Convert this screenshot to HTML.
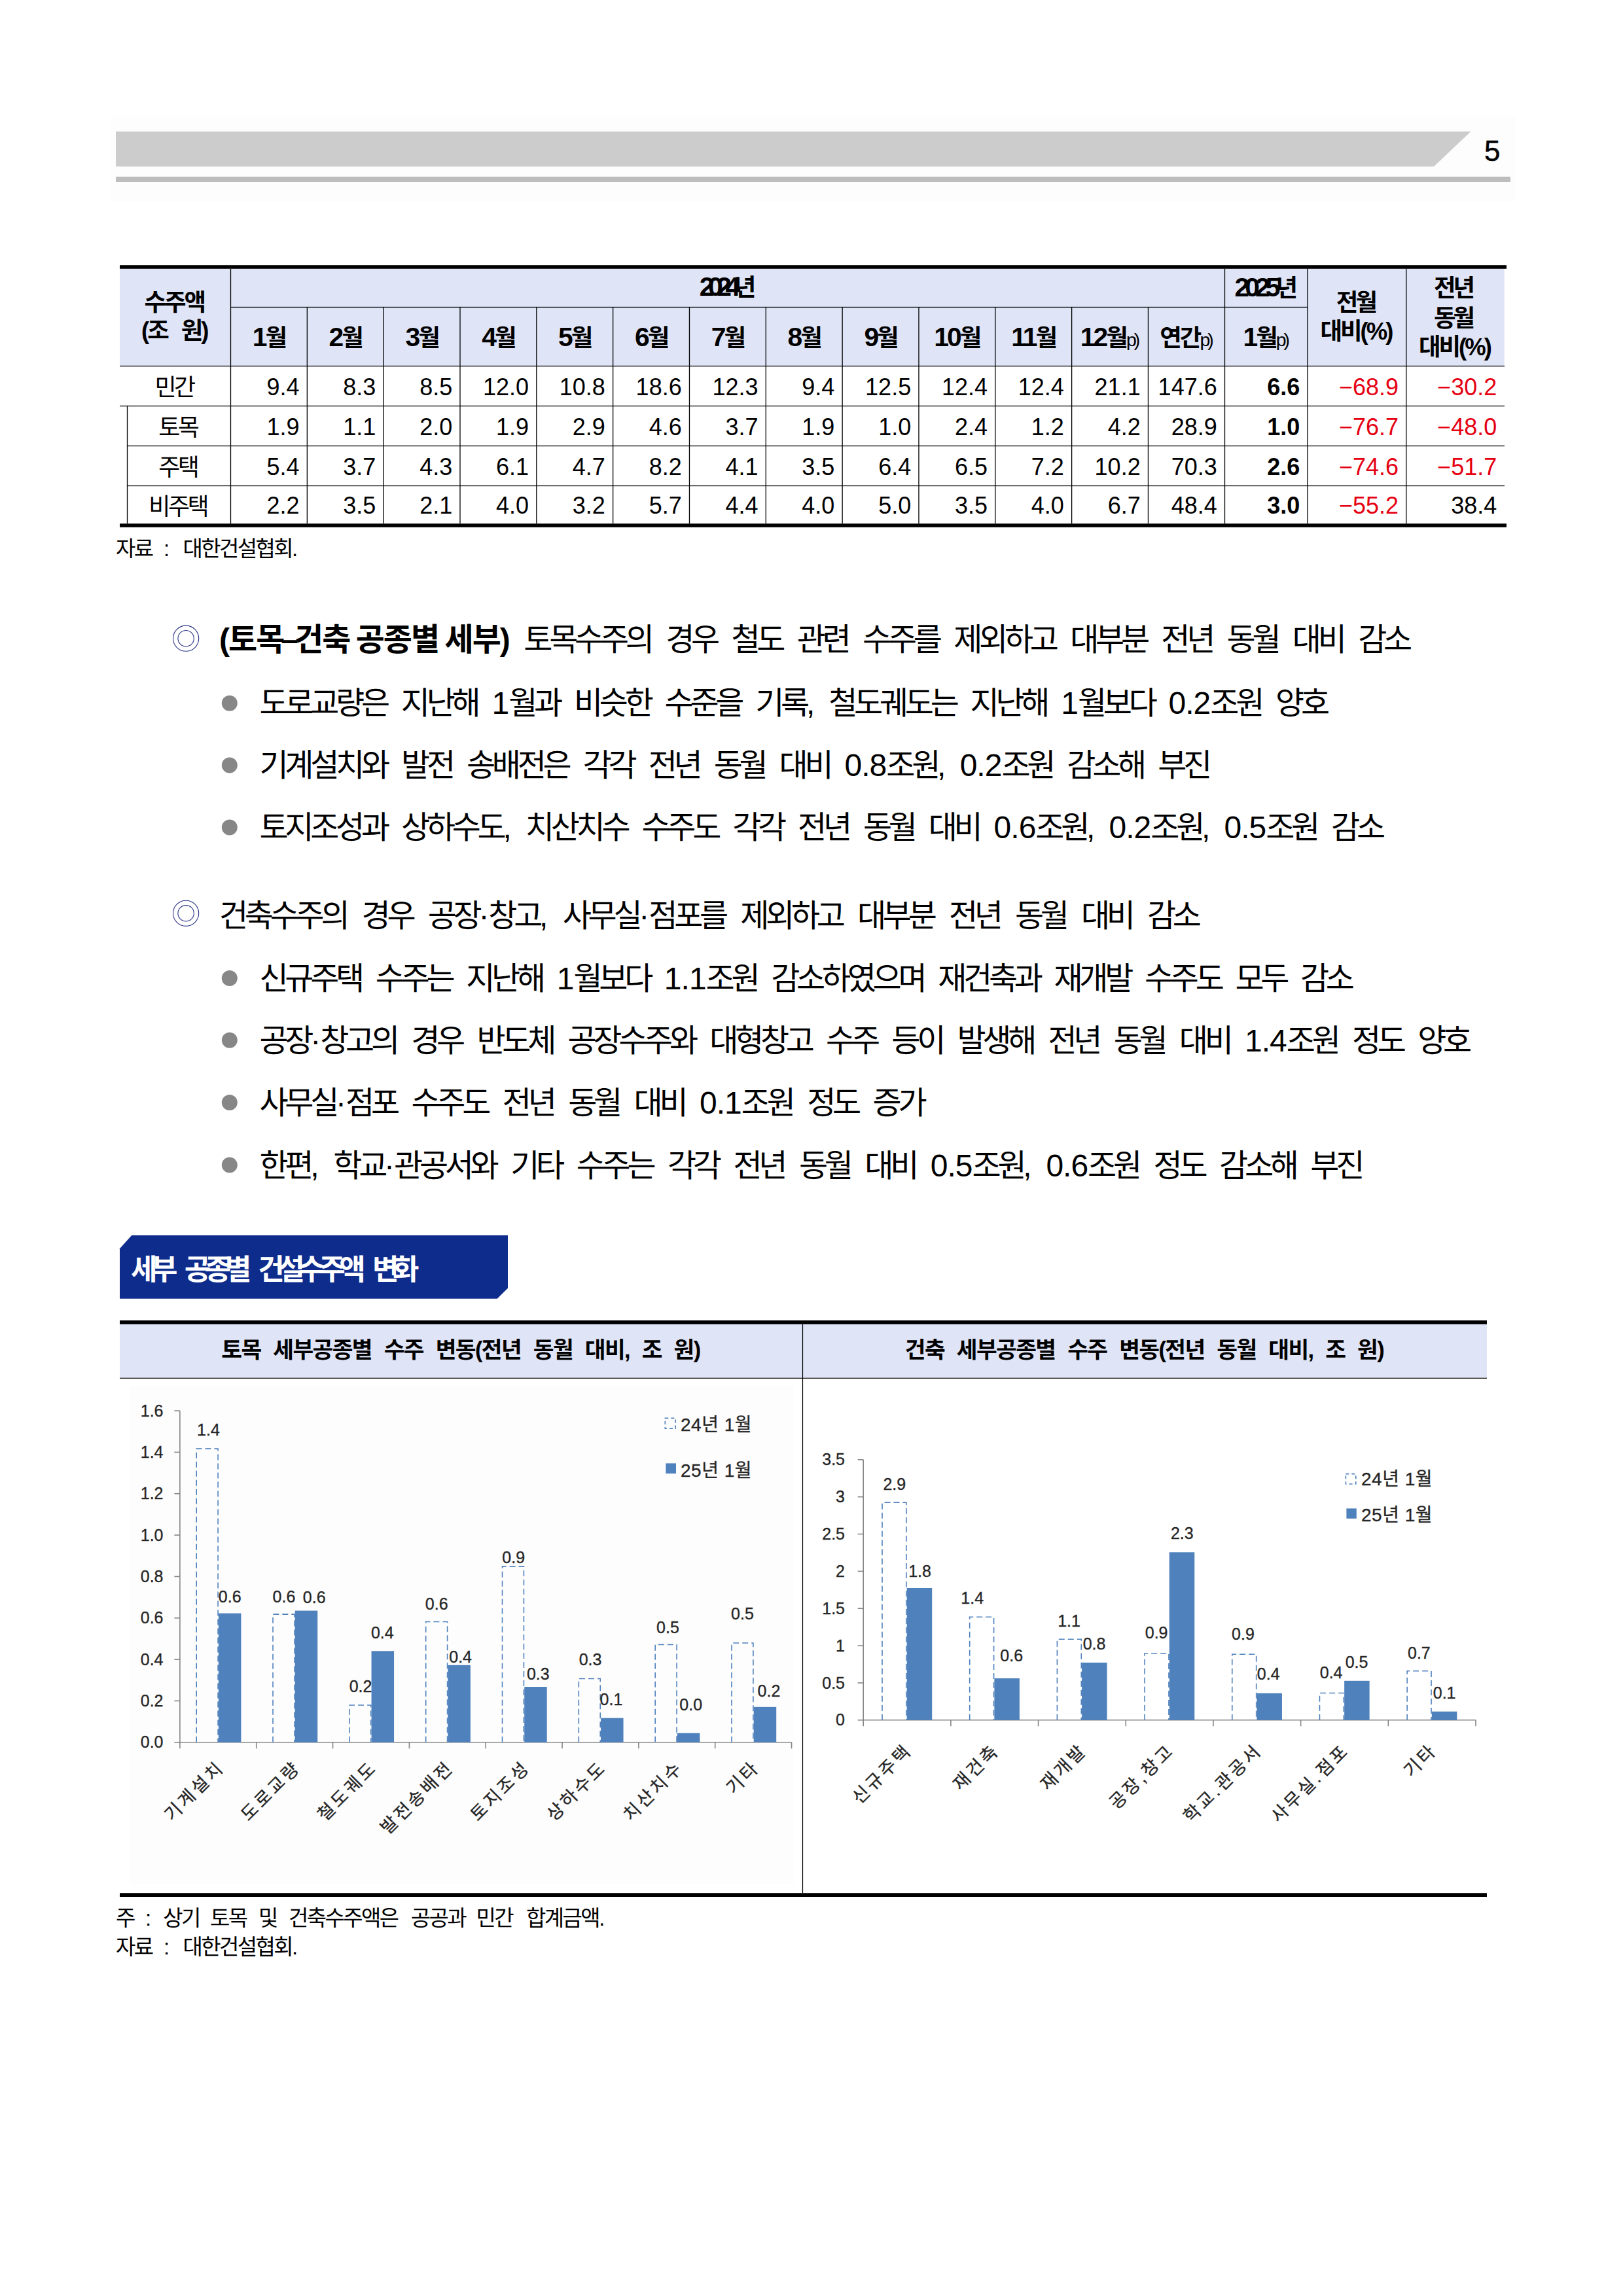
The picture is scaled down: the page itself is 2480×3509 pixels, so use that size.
<!DOCTYPE html>
<html lang="ko"><head><meta charset="utf-8"><title>세부 공종별 건설수주액 변화</title>
<style>
html,body{margin:0;padding:0;background:#fff;}
body{width:2480px;height:3509px;position:relative;overflow:hidden;font-family:'Liberation Sans','Noto Sans CJK KR',sans-serif;color:#000;}
.t{position:absolute;white-space:nowrap;line-height:1;}
.n{letter-spacing:-1px;}
.p{font-size:0.78em;font-weight:400;letter-spacing:-4px;}
.d{font-size:1.12em;line-height:0;}
b{font-weight:700;}
svg.ch text{stroke:#262626;stroke-width:0.35px;}
</style></head><body>
<svg width="2480" height="3509" viewBox="0 0 2480 3509" style="position:absolute;left:0;top:0"><rect x="170" y="178" width="2145" height="130" fill="#fdfdfd"/><polygon points="177,201 2247.5,201 2191,254.5 177,254.5" fill="#cdcccd"/><rect x="177" y="270" width="2131" height="8" fill="#bdbdbd"/><rect x="183" y="411" width="2115.7" height="148.5" fill="#dfe4f6"/><rect x="183" y="405.2" width="2119" height="5.6" fill="#000"/><rect x="183" y="800.2" width="2119" height="5.6" fill="#000"/><rect x="352.5" y="468.85" width="1645.5" height="1.3" fill="#000"/><rect x="183" y="558.85" width="2116" height="1.3" fill="#000"/><rect x="183" y="619.85" width="2116" height="1.3" fill="#000"/><rect x="194.5" y="680.85" width="2104.5" height="1.3" fill="#000"/><rect x="194.5" y="741.85" width="2104.5" height="1.3" fill="#000"/><rect x="193.85" y="620.5" width="1.3" height="179.7" fill="#000"/><rect x="351.85" y="410.8" width="1.3" height="389.4" fill="#000"/><rect x="468.68" y="469.5" width="1.3" height="330.7" fill="#000"/><rect x="585.51" y="469.5" width="1.3" height="330.7" fill="#000"/><rect x="702.34" y="469.5" width="1.3" height="330.7" fill="#000"/><rect x="819.17" y="469.5" width="1.3" height="330.7" fill="#000"/><rect x="936" y="469.5" width="1.3" height="330.7" fill="#000"/><rect x="1052.83" y="469.5" width="1.3" height="330.7" fill="#000"/><rect x="1169.66" y="469.5" width="1.3" height="330.7" fill="#000"/><rect x="1286.49" y="469.5" width="1.3" height="330.7" fill="#000"/><rect x="1403.32" y="469.5" width="1.3" height="330.7" fill="#000"/><rect x="1520.15" y="469.5" width="1.3" height="330.7" fill="#000"/><rect x="1636.98" y="469.5" width="1.3" height="330.7" fill="#000"/><rect x="1753.81" y="469.5" width="1.3" height="330.7" fill="#000"/><rect x="1870.85" y="410.8" width="1.3" height="389.4" fill="#000"/><rect x="1997.35" y="410.8" width="1.3" height="389.4" fill="#000"/><rect x="2148.15" y="410.8" width="1.3" height="389.4" fill="#000"/><polygon points="183,1908.3 201.2,1888 776,1888 776,1968.7 759.8,1984.8 183,1984.8" fill="#0e2c8c"/><rect x="183" y="2024" width="2089" height="81.5" fill="#dfe4f6"/><rect x="197.5" y="2117.5" width="1015" height="762" fill="#fdfdfd"/><rect x="183" y="2018" width="2089" height="5.9" fill="#000"/><rect x="183" y="2893.2" width="2089" height="5.8" fill="#000"/><rect x="183" y="2105.7" width="2089" height="1.2" fill="#000"/><rect x="1225.9" y="2023.9" width="1.2" height="869.3" fill="#000"/></svg><div class="t" style="left:2268px;top:208.8px;font-size:44px;-webkit-text-stroke:0.5px #000;">5</div><div class="t" style="left:181.5px;width:169.5px;text-align:center;top:444.63px;font-size:36.5px;font-weight:700;letter-spacing:-3px;">수주액</div><div class="t" style="left:181.5px;width:169.5px;text-align:center;top:487.63px;font-size:36.5px;font-weight:700;letter-spacing:-3px;">(조<span style="margin-left:21px">원)</span></div><div class="t" style="left:347.75px;width:1519px;text-align:center;top:422.44px;font-size:36.5px;font-weight:700;letter-spacing:-9.5px;"><span class="d">2024</span>년</div><div class="t" style="left:1868px;width:126.5px;text-align:center;top:422.74px;font-size:36.5px;font-weight:700;letter-spacing:-7px;"><span class="d">2025</span>년</div><div class="t" style="left:352.5px;width:116.83px;text-align:center;top:498.63px;font-size:36.5px;font-weight:700;letter-spacing:-3px;"><span class="d">1</span>월</div><div class="t" style="left:469.33px;width:116.83px;text-align:center;top:498.63px;font-size:36.5px;font-weight:700;letter-spacing:-3px;"><span class="d">2</span>월</div><div class="t" style="left:586.16px;width:116.83px;text-align:center;top:498.63px;font-size:36.5px;font-weight:700;letter-spacing:-3px;"><span class="d">3</span>월</div><div class="t" style="left:702.99px;width:116.83px;text-align:center;top:498.63px;font-size:36.5px;font-weight:700;letter-spacing:-3px;"><span class="d">4</span>월</div><div class="t" style="left:819.82px;width:116.83px;text-align:center;top:498.63px;font-size:36.5px;font-weight:700;letter-spacing:-3px;"><span class="d">5</span>월</div><div class="t" style="left:936.65px;width:116.83px;text-align:center;top:498.63px;font-size:36.5px;font-weight:700;letter-spacing:-3px;"><span class="d">6</span>월</div><div class="t" style="left:1053.48px;width:116.83px;text-align:center;top:498.63px;font-size:36.5px;font-weight:700;letter-spacing:-3px;"><span class="d">7</span>월</div><div class="t" style="left:1170.31px;width:116.83px;text-align:center;top:498.63px;font-size:36.5px;font-weight:700;letter-spacing:-3px;"><span class="d">8</span>월</div><div class="t" style="left:1287.14px;width:116.83px;text-align:center;top:498.63px;font-size:36.5px;font-weight:700;letter-spacing:-3px;"><span class="d">9</span>월</div><div class="t" style="left:1403.97px;width:116.83px;text-align:center;top:498.63px;font-size:36.5px;font-weight:700;letter-spacing:-3px;"><span class="d">10</span>월</div><div class="t" style="left:1520.8px;width:116.83px;text-align:center;top:498.63px;font-size:36.5px;font-weight:700;letter-spacing:-3px;"><span class="d">11</span>월</div><div class="t" style="left:1636.13px;width:116.83px;text-align:center;top:498.63px;font-size:36.5px;font-weight:700;letter-spacing:-3px;"><span class="d">12</span>월<span class="p">p)</span></div><div class="t" style="left:1752.96px;width:117.04px;text-align:center;top:498.63px;font-size:36.5px;font-weight:700;letter-spacing:-3px;">연간<span class="p">p)</span></div><div class="t" style="left:1870px;width:126.5px;text-align:center;top:498.63px;font-size:36.5px;font-weight:700;letter-spacing:-3px;"><span class="d">1</span>월<span class="p">p)</span></div><div class="t" style="left:1996px;width:150.8px;text-align:center;top:444.63px;font-size:36.5px;font-weight:700;letter-spacing:-4px;">전월</div><div class="t" style="left:1996.5px;width:150.8px;text-align:center;top:489.33px;font-size:36.5px;font-weight:700;letter-spacing:-3px;">대비(%)</div><div class="t" style="left:2144px;width:153px;text-align:center;top:423.33px;font-size:36.5px;font-weight:700;letter-spacing:-4px;">전년</div><div class="t" style="left:2144px;width:153px;text-align:center;top:468.63px;font-size:36.5px;font-weight:700;letter-spacing:-4px;">동월</div><div class="t" style="left:2147.3px;width:150.2px;text-align:center;top:512.63px;font-size:36.5px;font-weight:700;letter-spacing:-3px;">대비(%)</div><div class="t" style="left:181.25px;width:169.5px;text-align:center;top:575.44px;font-size:36px;letter-spacing:-3.5px;">민간</div><div class="t" style="right:2022.47px;text-align:right;top:573.8px;font-size:36px;">9.4</div><div class="t" style="right:1905.64px;text-align:right;top:573.8px;font-size:36px;">8.3</div><div class="t" style="right:1788.81px;text-align:right;top:573.8px;font-size:36px;">8.5</div><div class="t" style="right:1671.98px;text-align:right;top:573.8px;font-size:36px;">12.0</div><div class="t" style="right:1555.15px;text-align:right;top:573.8px;font-size:36px;">10.8</div><div class="t" style="right:1438.32px;text-align:right;top:573.8px;font-size:36px;">18.6</div><div class="t" style="right:1321.49px;text-align:right;top:573.8px;font-size:36px;">12.3</div><div class="t" style="right:1204.66px;text-align:right;top:573.8px;font-size:36px;">9.4</div><div class="t" style="right:1087.83px;text-align:right;top:573.8px;font-size:36px;">12.5</div><div class="t" style="right:971px;text-align:right;top:573.8px;font-size:36px;">12.4</div><div class="t" style="right:854.17px;text-align:right;top:573.8px;font-size:36px;">12.4</div><div class="t" style="right:737.34px;text-align:right;top:573.8px;font-size:36px;">21.1</div><div class="t" style="right:620.3px;text-align:right;top:573.8px;font-size:36px;">147.6</div><div class="t" style="right:493.8px;text-align:right;top:573.8px;font-size:36px;font-weight:700;">6.6</div><div class="t" style="right:343px;text-align:right;top:573.8px;font-size:36px;color:#e50012;">−68.9</div><div class="t" style="right:192.8px;text-align:right;top:573.8px;font-size:36px;color:#e50012;">−30.2</div><div class="t" style="left:192.75px;width:158px;text-align:center;top:636.44px;font-size:36px;letter-spacing:-3.5px;">토목</div><div class="t" style="right:2022.47px;text-align:right;top:634.8px;font-size:36px;">1.9</div><div class="t" style="right:1905.64px;text-align:right;top:634.8px;font-size:36px;">1.1</div><div class="t" style="right:1788.81px;text-align:right;top:634.8px;font-size:36px;">2.0</div><div class="t" style="right:1671.98px;text-align:right;top:634.8px;font-size:36px;">1.9</div><div class="t" style="right:1555.15px;text-align:right;top:634.8px;font-size:36px;">2.9</div><div class="t" style="right:1438.32px;text-align:right;top:634.8px;font-size:36px;">4.6</div><div class="t" style="right:1321.49px;text-align:right;top:634.8px;font-size:36px;">3.7</div><div class="t" style="right:1204.66px;text-align:right;top:634.8px;font-size:36px;">1.9</div><div class="t" style="right:1087.83px;text-align:right;top:634.8px;font-size:36px;">1.0</div><div class="t" style="right:971px;text-align:right;top:634.8px;font-size:36px;">2.4</div><div class="t" style="right:854.17px;text-align:right;top:634.8px;font-size:36px;">1.2</div><div class="t" style="right:737.34px;text-align:right;top:634.8px;font-size:36px;">4.2</div><div class="t" style="right:620.3px;text-align:right;top:634.8px;font-size:36px;">28.9</div><div class="t" style="right:493.8px;text-align:right;top:634.8px;font-size:36px;font-weight:700;">1.0</div><div class="t" style="right:343px;text-align:right;top:634.8px;font-size:36px;color:#e50012;">−76.7</div><div class="t" style="right:192.8px;text-align:right;top:634.8px;font-size:36px;color:#e50012;">−48.0</div><div class="t" style="left:192.75px;width:158px;text-align:center;top:697.44px;font-size:36px;letter-spacing:-3.5px;">주택</div><div class="t" style="right:2022.47px;text-align:right;top:695.8px;font-size:36px;">5.4</div><div class="t" style="right:1905.64px;text-align:right;top:695.8px;font-size:36px;">3.7</div><div class="t" style="right:1788.81px;text-align:right;top:695.8px;font-size:36px;">4.3</div><div class="t" style="right:1671.98px;text-align:right;top:695.8px;font-size:36px;">6.1</div><div class="t" style="right:1555.15px;text-align:right;top:695.8px;font-size:36px;">4.7</div><div class="t" style="right:1438.32px;text-align:right;top:695.8px;font-size:36px;">8.2</div><div class="t" style="right:1321.49px;text-align:right;top:695.8px;font-size:36px;">4.1</div><div class="t" style="right:1204.66px;text-align:right;top:695.8px;font-size:36px;">3.5</div><div class="t" style="right:1087.83px;text-align:right;top:695.8px;font-size:36px;">6.4</div><div class="t" style="right:971px;text-align:right;top:695.8px;font-size:36px;">6.5</div><div class="t" style="right:854.17px;text-align:right;top:695.8px;font-size:36px;">7.2</div><div class="t" style="right:737.34px;text-align:right;top:695.8px;font-size:36px;">10.2</div><div class="t" style="right:620.3px;text-align:right;top:695.8px;font-size:36px;">70.3</div><div class="t" style="right:493.8px;text-align:right;top:695.8px;font-size:36px;font-weight:700;">2.6</div><div class="t" style="right:343px;text-align:right;top:695.8px;font-size:36px;color:#e50012;">−74.6</div><div class="t" style="right:192.8px;text-align:right;top:695.8px;font-size:36px;color:#e50012;">−51.7</div><div class="t" style="left:192.75px;width:158px;text-align:center;top:756.69px;font-size:36px;letter-spacing:-3.5px;">비주택</div><div class="t" style="right:2022.47px;text-align:right;top:755.05px;font-size:36px;">2.2</div><div class="t" style="right:1905.64px;text-align:right;top:755.05px;font-size:36px;">3.5</div><div class="t" style="right:1788.81px;text-align:right;top:755.05px;font-size:36px;">2.1</div><div class="t" style="right:1671.98px;text-align:right;top:755.05px;font-size:36px;">4.0</div><div class="t" style="right:1555.15px;text-align:right;top:755.05px;font-size:36px;">3.2</div><div class="t" style="right:1438.32px;text-align:right;top:755.05px;font-size:36px;">5.7</div><div class="t" style="right:1321.49px;text-align:right;top:755.05px;font-size:36px;">4.4</div><div class="t" style="right:1204.66px;text-align:right;top:755.05px;font-size:36px;">4.0</div><div class="t" style="right:1087.83px;text-align:right;top:755.05px;font-size:36px;">5.0</div><div class="t" style="right:971px;text-align:right;top:755.05px;font-size:36px;">3.5</div><div class="t" style="right:854.17px;text-align:right;top:755.05px;font-size:36px;">4.0</div><div class="t" style="right:737.34px;text-align:right;top:755.05px;font-size:36px;">6.7</div><div class="t" style="right:620.3px;text-align:right;top:755.05px;font-size:36px;">48.4</div><div class="t" style="right:493.8px;text-align:right;top:755.05px;font-size:36px;font-weight:700;">3.0</div><div class="t" style="right:343px;text-align:right;top:755.05px;font-size:36px;color:#e50012;">−55.2</div><div class="t" style="right:192.8px;text-align:right;top:755.05px;font-size:36px;">38.4</div><div class="t" style="left:177px;top:822.24px;font-size:33px;letter-spacing:-2.6px;">자료</div><div class="t" style="left:250px;top:822.24px;font-size:33px;letter-spacing:-2.6px;">:</div><div class="t" style="left:279.5px;top:822.24px;font-size:33px;letter-spacing:-2.6px;">대한건설협회.</div><svg width="2480" height="3509" style="position:absolute;left:0;top:0"><circle cx="284.1" cy="975.7" r="19.6" fill="none" stroke="#2b3788" stroke-width="1.1"/><circle cx="284.1" cy="975.7" r="12.2" fill="none" stroke="#2b3788" stroke-width="1.1"/><circle cx="284.1" cy="1395.8" r="19.6" fill="none" stroke="#2b3788" stroke-width="1.1"/><circle cx="284.1" cy="1395.8" r="12.2" fill="none" stroke="#2b3788" stroke-width="1.1"/><circle cx="350.8" cy="1074.8" r="12" fill="#878787"/><circle cx="350.8" cy="1169.6" r="12" fill="#878787"/><circle cx="350.8" cy="1264.5" r="12" fill="#878787"/><circle cx="350.8" cy="1494.9" r="12" fill="#878787"/><circle cx="350.8" cy="1589.8" r="12" fill="#878787"/><circle cx="350.8" cy="1684.9" r="12" fill="#878787"/><circle cx="350.8" cy="1780.6" r="12" fill="#878787"/></svg><div class="t" style="left:335px;top:954.32px;font-size:48px;letter-spacing:-5.3px;word-spacing:14.52px;"><b style="letter-spacing:-2px;word-spacing:-2px">(토목<span style="margin:0 -4px">–</span>건축 공종별 세부)</b> 토목수주의 경우 철도 관련 수주를 제외하고 대부분 전년 동월 대비 감소</div><div class="t" style="left:396.5px;top:1051.22px;font-size:48px;letter-spacing:-5.3px;word-spacing:14.0px;">도로교량은 지난해 <span class="n">1</span>월과 비슷한 수준을 기록<span class="n">,</span> 철도궤도는 지난해 <span class="n">1</span>월보다 <span class="n">0.2</span>조원 양호</div><div class="t" style="left:396.5px;top:1146.02px;font-size:48px;letter-spacing:-5.3px;word-spacing:14.21px;">기계설치와 발전 송배전은 각각 전년 동월 대비 <span class="n">0.8</span>조원<span class="n">,</span> <span class="n">0.2</span>조원 감소해 부진</div><div class="t" style="left:396.5px;top:1240.92px;font-size:48px;letter-spacing:-5.3px;word-spacing:14.1px;">토지조성과 상하수도<span class="n">,</span> 치산치수 수주도 각각 전년 동월 대비 <span class="n">0.6</span>조원<span class="n">,</span> <span class="n">0.2</span>조원<span class="n">,</span> <span class="n">0.5</span>조원 감소</div><div class="t" style="left:335px;top:1376.12px;font-size:48px;letter-spacing:-5.3px;word-spacing:15.28px;">건축수주의 경우 공장<span class="n">·</span>창고<span class="n">,</span> 사무실<span class="n">·</span>점포를 제외하고 대부분 전년 동월 대비 감소</div><div class="t" style="left:396.5px;top:1472.22px;font-size:48px;letter-spacing:-5.3px;word-spacing:13.83px;">신규주택 수주는 지난해 <span class="n">1</span>월보다 <span class="n">1.1</span>조원 감소하였으며 재건축과 재개발 수주도 모두 감소</div><div class="t" style="left:396.5px;top:1567.12px;font-size:48px;letter-spacing:-5.3px;word-spacing:14.42px;">공장<span class="n">·</span>창고의 경우 반도체 공장수주와 대형창고 수주 등이 발생해 전년 동월 대비 <span class="n">1.4</span>조원 정도 양호</div><div class="t" style="left:396.5px;top:1662.22px;font-size:48px;letter-spacing:-5.3px;word-spacing:14.66px;">사무실<span class="n">·</span>점포 수주도 전년 동월 대비 <span class="n">0.1</span>조원 정도 증가</div><div class="t" style="left:396.5px;top:1757.92px;font-size:48px;letter-spacing:-5.3px;word-spacing:14.7px;">한편<span class="n">,</span> 학교<span class="n">·</span>관공서와 기타 수주는 각각 전년 동월 대비 <span class="n">0.5</span>조원<span class="n">,</span> <span class="n">0.6</span>조원 정도 감소해 부진</div><div class="t" style="left:200px;top:1918.52px;font-size:44px;font-weight:700;color:#fff;letter-spacing:-9.5px;word-spacing:17px;">세부 공종별 건설수주액 변화</div><div class="t" style="left:182.2px;width:1043.5px;text-align:center;top:2045.78px;font-size:34.5px;font-weight:700;letter-spacing:-1.6px;word-spacing:10.7px;">토목 세부공종별 수주 변동(전년 동월 대비, 조 원)</div><div class="t" style="left:1225.7px;width:1045.5px;text-align:center;top:2045.78px;font-size:34.5px;font-weight:700;letter-spacing:-1.6px;word-spacing:10.7px;">건축 세부공종별 수주 변동(전년 동월 대비, 조 원)</div><div class="t" style="left:177px;top:2915.34px;font-size:33px;letter-spacing:-2.6px;">주</div><div class="t" style="left:222px;top:2915.34px;font-size:33px;letter-spacing:-2.6px;">:</div><div class="t" style="left:249.3px;top:2915.34px;font-size:33px;letter-spacing:-2.6px;">상기</div><div class="t" style="left:320.9px;top:2915.34px;font-size:33px;letter-spacing:-2.6px;">토목</div><div class="t" style="left:395px;top:2915.34px;font-size:33px;letter-spacing:-2.6px;">및</div><div class="t" style="left:441px;top:2915.34px;font-size:33px;letter-spacing:-2.6px;">건축수주액은</div><div class="t" style="left:627.7px;top:2915.34px;font-size:33px;letter-spacing:-2.6px;">공공과</div><div class="t" style="left:727.4px;top:2915.34px;font-size:33px;letter-spacing:-2.6px;">민간</div><div class="t" style="left:804.1px;top:2915.34px;font-size:33px;letter-spacing:-2.6px;">합계금액.</div><div class="t" style="left:177px;top:2959.04px;font-size:33px;letter-spacing:-2.6px;">자료</div><div class="t" style="left:250px;top:2959.04px;font-size:33px;letter-spacing:-2.6px;">:</div><div class="t" style="left:279.5px;top:2959.04px;font-size:33px;letter-spacing:-2.6px;">대한건설협회.</div><svg width="2480" height="3509" style="position:absolute;left:0;top:0;font-family:'Liberation Sans','Noto Sans CJK KR',sans-serif;font-size:25px;fill:#262626" class="ch"><line x1="274.9" y1="2156.1" x2="274.9" y2="2662.8" stroke="#868686" stroke-width="1.6"/><line x1="274.9" y1="2662.8" x2="1209.54" y2="2662.8" stroke="#868686" stroke-width="1.6"/><line x1="266.4" y1="2662.8" x2="274.9" y2="2662.8" stroke="#868686" stroke-width="1.6"/><text x="249.5" y="2671.4" text-anchor="end">0.0</text><line x1="266.4" y1="2599.46" x2="274.9" y2="2599.46" stroke="#868686" stroke-width="1.6"/><text x="249.5" y="2608.06" text-anchor="end">0.2</text><line x1="266.4" y1="2536.12" x2="274.9" y2="2536.12" stroke="#868686" stroke-width="1.6"/><text x="249.5" y="2544.72" text-anchor="end">0.4</text><line x1="266.4" y1="2472.78" x2="274.9" y2="2472.78" stroke="#868686" stroke-width="1.6"/><text x="249.5" y="2481.38" text-anchor="end">0.6</text><line x1="266.4" y1="2409.44" x2="274.9" y2="2409.44" stroke="#868686" stroke-width="1.6"/><text x="249.5" y="2418.04" text-anchor="end">0.8</text><line x1="266.4" y1="2346.1" x2="274.9" y2="2346.1" stroke="#868686" stroke-width="1.6"/><text x="249.5" y="2354.7" text-anchor="end">1.0</text><line x1="266.4" y1="2282.76" x2="274.9" y2="2282.76" stroke="#868686" stroke-width="1.6"/><text x="249.5" y="2291.36" text-anchor="end">1.2</text><line x1="266.4" y1="2219.42" x2="274.9" y2="2219.42" stroke="#868686" stroke-width="1.6"/><text x="249.5" y="2228.02" text-anchor="end">1.4</text><line x1="266.4" y1="2156.08" x2="274.9" y2="2156.08" stroke="#868686" stroke-width="1.6"/><text x="249.5" y="2164.68" text-anchor="end">1.6</text><line x1="274.9" y1="2662.8" x2="274.9" y2="2672.3" stroke="#868686" stroke-width="1.6"/><line x1="391.73" y1="2662.8" x2="391.73" y2="2672.3" stroke="#868686" stroke-width="1.6"/><line x1="508.56" y1="2662.8" x2="508.56" y2="2672.3" stroke="#868686" stroke-width="1.6"/><line x1="625.39" y1="2662.8" x2="625.39" y2="2672.3" stroke="#868686" stroke-width="1.6"/><line x1="742.22" y1="2662.8" x2="742.22" y2="2672.3" stroke="#868686" stroke-width="1.6"/><line x1="859.05" y1="2662.8" x2="859.05" y2="2672.3" stroke="#868686" stroke-width="1.6"/><line x1="975.88" y1="2662.8" x2="975.88" y2="2672.3" stroke="#868686" stroke-width="1.6"/><line x1="1092.71" y1="2662.8" x2="1092.71" y2="2672.3" stroke="#868686" stroke-width="1.6"/><line x1="1209.54" y1="2662.8" x2="1209.54" y2="2672.3" stroke="#868686" stroke-width="1.6"/><rect x="333.9" y="2465.6" width="34.5" height="197.2" fill="#4f81bd"/><path d="M300.2 2662.8V2214.1H333.1V2662.8" fill="none" stroke="#4f81bd" stroke-width="1.6" stroke-dasharray="9 5"/><rect x="450.73" y="2461.6" width="34.5" height="201.2" fill="#4f81bd"/><path d="M417.03 2662.8V2467.1H449.93V2662.8" fill="none" stroke="#4f81bd" stroke-width="1.6" stroke-dasharray="9 5"/><rect x="567.56" y="2523.3" width="34.5" height="139.5" fill="#4f81bd"/><path d="M533.86 2662.8V2606H566.76V2662.8" fill="none" stroke="#4f81bd" stroke-width="1.6" stroke-dasharray="9 5"/><rect x="684.39" y="2544.8" width="34.5" height="118" fill="#4f81bd"/><path d="M650.69 2662.8V2478.5H683.59V2662.8" fill="none" stroke="#4f81bd" stroke-width="1.6" stroke-dasharray="9 5"/><rect x="801.22" y="2578" width="34.5" height="84.8" fill="#4f81bd"/><path d="M767.52 2662.8V2393.9H800.42V2662.8" fill="none" stroke="#4f81bd" stroke-width="1.6" stroke-dasharray="9 5"/><rect x="918.05" y="2625.7" width="34.5" height="37.1" fill="#4f81bd"/><path d="M884.35 2662.8V2565.5H917.25V2662.8" fill="none" stroke="#4f81bd" stroke-width="1.6" stroke-dasharray="9 5"/><rect x="1034.88" y="2648.8" width="34.5" height="14" fill="#4f81bd"/><path d="M1001.18 2662.8V2513.5H1034.08V2662.8" fill="none" stroke="#4f81bd" stroke-width="1.6" stroke-dasharray="9 5"/><rect x="1151.71" y="2608.8" width="34.5" height="54" fill="#4f81bd"/><path d="M1118.01 2662.8V2511H1150.91V2662.8" fill="none" stroke="#4f81bd" stroke-width="1.6" stroke-dasharray="9 5"/><text x="318.5" y="2193.8" text-anchor="middle">1.4</text><text x="351.2" y="2448.7" text-anchor="middle">0.6</text><text x="434" y="2448.7" text-anchor="middle">0.6</text><text x="480.25" y="2450.3" text-anchor="middle">0.6</text><text x="551.1" y="2585.8" text-anchor="middle">0.2</text><text x="584.35" y="2504.3" text-anchor="middle">0.4</text><text x="667.25" y="2459.8" text-anchor="middle">0.6</text><text x="703.65" y="2541.1" text-anchor="middle">0.4</text><text x="784.7" y="2388.8" text-anchor="middle">0.9</text><text x="822.3" y="2567.3" text-anchor="middle">0.3</text><text x="902.05" y="2545" text-anchor="middle">0.3</text><text x="934" y="2606" text-anchor="middle">0.1</text><text x="1020.5" y="2496.3" text-anchor="middle">0.5</text><text x="1055.75" y="2614.3" text-anchor="middle">0.0</text><text x="1134.5" y="2475.3" text-anchor="middle">0.5</text><text x="1175" y="2593.3" text-anchor="middle">0.2</text><text x="344.31" y="2702.8" text-anchor="end" transform="rotate(-45 344.31 2702.8)" style="font-size:27px;letter-spacing:4px">기계설치</text><text x="461.14" y="2702.8" text-anchor="end" transform="rotate(-45 461.14 2702.8)" style="font-size:27px;letter-spacing:4px">도로교량</text><text x="577.97" y="2702.8" text-anchor="end" transform="rotate(-45 577.97 2702.8)" style="font-size:27px;letter-spacing:4px">철도궤도</text><text x="694.8" y="2702.8" text-anchor="end" transform="rotate(-45 694.8 2702.8)" style="font-size:27px;letter-spacing:4px">발전송배전</text><text x="811.63" y="2702.8" text-anchor="end" transform="rotate(-45 811.63 2702.8)" style="font-size:27px;letter-spacing:4px">토지조성</text><text x="928.46" y="2702.8" text-anchor="end" transform="rotate(-45 928.46 2702.8)" style="font-size:27px;letter-spacing:4px">상하수도</text><text x="1045.3" y="2702.8" text-anchor="end" transform="rotate(-45 1045.3 2702.8)" style="font-size:27px;letter-spacing:4px">치산치수</text><text x="1162.12" y="2702.8" text-anchor="end" transform="rotate(-45 1162.12 2702.8)" style="font-size:27px;letter-spacing:4px">기타</text><rect x="1016.3" y="2167.4" width="15.9" height="15.9" fill="none" stroke="#4f81bd" stroke-width="1.6" stroke-dasharray="5 4"/><text x="1040" y="2186.5" style="font-size:28px;letter-spacing:0.5px">24년 1월</text><rect x="1017.4" y="2236.4" width="15.6" height="15.6" fill="#4f81bd"/><text x="1040" y="2256.5" style="font-size:28px;letter-spacing:0.5px">25년 1월</text><line x1="1319.2" y1="2230.8" x2="1319.2" y2="2628.8" stroke="#868686" stroke-width="1.6"/><line x1="1319.2" y1="2628.8" x2="2255.03" y2="2628.8" stroke="#868686" stroke-width="1.6"/><line x1="1310.7" y1="2628.8" x2="1319.2" y2="2628.8" stroke="#868686" stroke-width="1.6"/><text x="1291" y="2637.4" text-anchor="end">0</text><line x1="1310.7" y1="2571.95" x2="1319.2" y2="2571.95" stroke="#868686" stroke-width="1.6"/><text x="1291" y="2580.55" text-anchor="end">0.5</text><line x1="1310.7" y1="2515.09" x2="1319.2" y2="2515.09" stroke="#868686" stroke-width="1.6"/><text x="1291" y="2523.69" text-anchor="end">1</text><line x1="1310.7" y1="2458.24" x2="1319.2" y2="2458.24" stroke="#868686" stroke-width="1.6"/><text x="1291" y="2466.84" text-anchor="end">1.5</text><line x1="1310.7" y1="2401.38" x2="1319.2" y2="2401.38" stroke="#868686" stroke-width="1.6"/><text x="1291" y="2409.98" text-anchor="end">2</text><line x1="1310.7" y1="2344.53" x2="1319.2" y2="2344.53" stroke="#868686" stroke-width="1.6"/><text x="1291" y="2353.12" text-anchor="end">2.5</text><line x1="1310.7" y1="2287.67" x2="1319.2" y2="2287.67" stroke="#868686" stroke-width="1.6"/><text x="1291" y="2296.27" text-anchor="end">3</text><line x1="1310.7" y1="2230.82" x2="1319.2" y2="2230.82" stroke="#868686" stroke-width="1.6"/><text x="1291" y="2239.41" text-anchor="end">3.5</text><line x1="1319.2" y1="2628.8" x2="1319.2" y2="2638.3" stroke="#868686" stroke-width="1.6"/><line x1="1452.89" y1="2628.8" x2="1452.89" y2="2638.3" stroke="#868686" stroke-width="1.6"/><line x1="1586.58" y1="2628.8" x2="1586.58" y2="2638.3" stroke="#868686" stroke-width="1.6"/><line x1="1720.27" y1="2628.8" x2="1720.27" y2="2638.3" stroke="#868686" stroke-width="1.6"/><line x1="1853.96" y1="2628.8" x2="1853.96" y2="2638.3" stroke="#868686" stroke-width="1.6"/><line x1="1987.65" y1="2628.8" x2="1987.65" y2="2638.3" stroke="#868686" stroke-width="1.6"/><line x1="2121.34" y1="2628.8" x2="2121.34" y2="2638.3" stroke="#868686" stroke-width="1.6"/><line x1="2255.03" y1="2628.8" x2="2255.03" y2="2638.3" stroke="#868686" stroke-width="1.6"/><rect x="1385.7" y="2427" width="38.5" height="201.8" fill="#4f81bd"/><path d="M1348 2628.8V2296.3H1384.9V2628.8" fill="none" stroke="#4f81bd" stroke-width="1.6" stroke-dasharray="9 5"/><rect x="1519.39" y="2565" width="38.5" height="63.8" fill="#4f81bd"/><path d="M1481.69 2628.8V2471.3H1518.59V2628.8" fill="none" stroke="#4f81bd" stroke-width="1.6" stroke-dasharray="9 5"/><rect x="1653.08" y="2541" width="38.5" height="87.8" fill="#4f81bd"/><path d="M1615.38 2628.8V2505.2H1652.28V2628.8" fill="none" stroke="#4f81bd" stroke-width="1.6" stroke-dasharray="9 5"/><rect x="1786.77" y="2372.3" width="38.5" height="256.5" fill="#4f81bd"/><path d="M1749.07 2628.8V2526.8H1785.97V2628.8" fill="none" stroke="#4f81bd" stroke-width="1.6" stroke-dasharray="9 5"/><rect x="1920.46" y="2587.8" width="38.5" height="41" fill="#4f81bd"/><path d="M1882.76 2628.8V2528.2H1919.66V2628.8" fill="none" stroke="#4f81bd" stroke-width="1.6" stroke-dasharray="9 5"/><rect x="2054.15" y="2568.8" width="38.5" height="60" fill="#4f81bd"/><path d="M2016.45 2628.8V2587.5H2053.35V2628.8" fill="none" stroke="#4f81bd" stroke-width="1.6" stroke-dasharray="9 5"/><rect x="2187.84" y="2615.7" width="38.5" height="13.1" fill="#4f81bd"/><path d="M2150.14 2628.8V2553.8H2187.04V2628.8" fill="none" stroke="#4f81bd" stroke-width="1.6" stroke-dasharray="9 5"/><text x="1366.8" y="2277.3" text-anchor="middle">2.9</text><text x="1405.6" y="2409.8" text-anchor="middle">1.8</text><text x="1485.7" y="2451.3" text-anchor="middle">1.4</text><text x="1545.75" y="2539.3" text-anchor="middle">0.6</text><text x="1633.55" y="2486.3" text-anchor="middle">1.1</text><text x="1672.1" y="2521.3" text-anchor="middle">0.8</text><text x="1767.15" y="2504.1" text-anchor="middle">0.9</text><text x="1806.3" y="2352.3" text-anchor="middle">2.3</text><text x="1899.5" y="2505.9" text-anchor="middle">0.9</text><text x="1938.2" y="2567.3" text-anchor="middle">0.4</text><text x="2034.15" y="2565.3" text-anchor="middle">0.4</text><text x="2073.1" y="2548.8" text-anchor="middle">0.5</text><text x="2168.4" y="2534.5" text-anchor="middle">0.7</text><text x="2207.15" y="2596.3" text-anchor="middle">0.1</text><text x="1395.05" y="2676.8" text-anchor="end" transform="rotate(-45 1395.05 2676.8)" style="font-size:27px;letter-spacing:4px">신규주택</text><text x="1528.74" y="2676.8" text-anchor="end" transform="rotate(-45 1528.74 2676.8)" style="font-size:27px;letter-spacing:4px">재건축</text><text x="1662.43" y="2676.8" text-anchor="end" transform="rotate(-45 1662.43 2676.8)" style="font-size:27px;letter-spacing:4px">재개발</text><text x="1796.12" y="2676.8" text-anchor="end" transform="rotate(-45 1796.12 2676.8)" style="font-size:27px;letter-spacing:4px">공장,창고</text><text x="1929.81" y="2676.8" text-anchor="end" transform="rotate(-45 1929.81 2676.8)" style="font-size:27px;letter-spacing:4px">학교.관공서</text><text x="2063.49" y="2676.8" text-anchor="end" transform="rotate(-45 2063.49 2676.8)" style="font-size:27px;letter-spacing:4px">사무실.점포</text><text x="2197.18" y="2676.8" text-anchor="end" transform="rotate(-45 2197.18 2676.8)" style="font-size:27px;letter-spacing:4px">기타</text><rect x="2056.4" y="2252.6" width="15.4" height="15.4" fill="none" stroke="#4f81bd" stroke-width="1.6" stroke-dasharray="5 4"/><text x="2080" y="2270" style="font-size:28px;letter-spacing:0.5px">24년 1월</text><rect x="2057.4" y="2305.4" width="15.4" height="15.4" fill="#4f81bd"/><text x="2080" y="2325" style="font-size:28px;letter-spacing:0.5px">25년 1월</text></svg>
</body></html>
